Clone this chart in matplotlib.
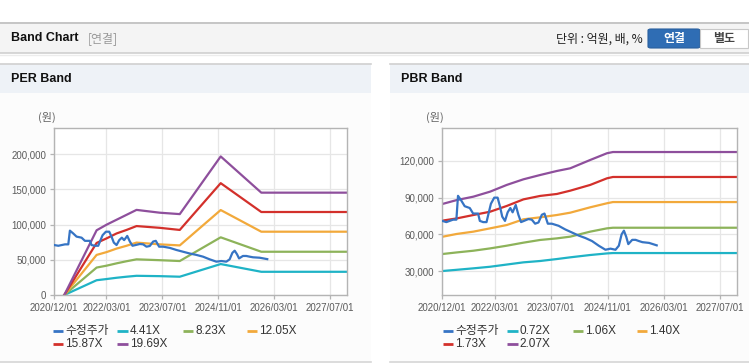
import matplotlib
matplotlib.use("Agg")
import matplotlib.pyplot as plt
import matplotlib.dates as mdates
from matplotlib.patches import Rectangle, FancyBboxPatch
from matplotlib.lines import Line2D
from matplotlib.ticker import FuncFormatter, FixedLocator
import pandas as pd

plt.rcParams['font.family'] = ['Liberation Sans', 'Noto Sans CJK KR', 'DejaVu Sans']

# ---------------- data ----------------
price_dates = ["2020-12-01", "2021-01-05", "2021-03-04", "2021-04-02", "2021-04-16", "2021-05-15",
               "2021-06-13", "2021-07-27", "2021-08-25", "2021-10-07", "2021-10-22", "2021-11-20",
               "2021-12-19", "2022-01-03", "2022-01-26", "2022-02-24", "2022-03-25", "2022-04-14",
               "2022-05-04", "2022-05-28", "2022-06-20", "2022-07-13", "2022-08-02", "2022-08-29",
               "2022-09-21", "2022-10-14", "2022-12-17", "2023-01-15", "2023-02-13", "2023-03-14",
               "2023-04-12", "2023-05-05", "2023-06-03", "2023-07-08", "2023-09-04", "2023-11-01",
               "2023-12-29", "2024-02-25", "2024-04-23", "2024-06-20", "2024-08-17", "2024-10-14",
               "2024-11-27", "2025-01-09", "2025-02-07", "2025-03-03", "2025-03-23", "2025-04-12",
               "2025-04-30", "2025-06-03", "2025-07-02", "2025-07-31", "2025-08-30", "2025-10-27",
               "2026-01-01"]
price_values = [71000, 70000, 72000, 72000, 91500, 87500,
                83000, 81500, 77000, 77000, 71000, 70000,
                70000, 76000, 85000, 90000, 90000, 83000,
                74500, 71000, 78000, 81500, 78000, 84000,
                76000, 70000, 72500, 72000, 68700, 69700,
                76000, 77000, 68700, 68700, 67000, 64000,
                61500, 59000, 57000, 54500, 50700, 47400,
                48300, 47400, 50700, 60000, 63000, 58000,
                52000, 55500, 55500, 54500, 53600, 53000,
                51000]

per_band_dates = ["2021-02-26", "2021-12-05", "2022-03-02", "2022-05-28", "2022-08-23", "2022-11-18",
                  "2023-06-09", "2023-11-30", "2024-11-21", "2025-11-10", "2027-11-30"]
per_441 = [0, 21000, 22700, 24500, 26000, 27300, 26800, 26000, 44000, 33000, 33000]
per_823 = [0, 39000, 41700, 45000, 48000, 50700, 49500, 48300, 82000, 61500, 61500]
per_1205 = [0, 57000, 61000, 66000, 70000, 74500, 72000, 70500, 120800, 90000, 90000]
per_1587 = [0, 74000, 80500, 87500, 92500, 98000, 95500, 92500, 159000, 118000, 118000]
per_1969 = [0, 92000, 100000, 107000, 114000, 121000, 117000, 115000, 197000, 145500, 145500]

pbr_band_dates = ["2020-12-01", "2021-04-04", "2021-08-27", "2022-01-19", "2022-06-12", "2022-11-04",
                  "2023-03-28", "2023-08-20", "2023-12-14", "2024-06-04", "2024-10-27", "2024-12-18",
                  "2027-11-30"]
pbr_072 = [30000, 31000, 32200, 33500, 35300, 37100, 38200, 39800, 41200, 43100, 44400, 44700, 44700]
pbr_106 = [43900, 45200, 46600, 48500, 50700, 53200, 55400, 56700, 58100, 62200, 64900, 65400, 65400]
pbr_140 = [58000, 60300, 62200, 64900, 67600, 72300, 73900, 75800, 77700, 82100, 85400, 86400, 86400]
pbr_173 = [71200, 73000, 75800, 78500, 83200, 88600, 91400, 93000, 95700, 100400, 105800, 106900, 106900]
pbr_207 = [84800, 88000, 90800, 94900, 100400, 105000, 108500, 111800, 114000, 120800, 126300, 127300, 127300]

per_labels = ["수정주가", "4.41X", "8.23X", "12.05X", "15.87X", "19.69X"]
pbr_labels = ["수정주가", "0.72X", "1.06X", "1.40X", "1.73X", "2.07X"]
series_colors = ["#3674c4", "#1fb3c6", "#8db35a", "#f2a93b", "#d3302b", "#8e4f9c"]

x_tick_dates = ["2020-12-01", "2022-03-01", "2023-07-01", "2024-11-01", "2026-03-01", "2027-07-01"]
per_yticks = [0, 50000, 100000, 150000, 200000]
pbr_yticks = [30000, 60000, 90000, 120000]

# ---------------- figure ----------------
W, H = 749, 364
fig = plt.figure(figsize=(W / 100, H / 100), dpi=100)
fig.patch.set_facecolor("white")

KR = ["Noto Sans CJK KR", "DejaVu Sans"]


def fx(x):
    return x / W


def fy(y):
    return 1 - y / H


def rect(x0, y0, x1, y1, fc, ec="none", lw=0, z=-2):
    fig.patches.append(Rectangle((fx(x0), fy(y1)), fx(x1) - fx(x0), fy(y0) - fy(y1),
                                 transform=fig.transFigure, facecolor=fc, edgecolor=ec, lw=lw, zorder=z))


def hline(x0, x1, y, color, lw=1.0):
    fig.add_artist(Line2D([fx(x0), fx(x1)], [fy(y), fy(y)], transform=fig.transFigure,
                          color=color, lw=lw, zorder=-1))


# header bar
rect(0, 22.5, 749, 53, "#f4f4f4")
hline(0, 749, 22.5, "#bdbdbd", 1.2)
hline(0, 749, 53.3, "#cfcfcf", 1.2)
hline(0, 749, 54.5, "#ececec", 1.0)
fig.text(fx(11), fy(38), "Band Chart", fontsize=9, fontweight="bold", color="#111111", va="center")
fig.text(fx(88), fy(38.5), "[연결]", fontsize=8.6, color="#999999", va="center", family=KR)
fig.text(fx(643), fy(39), "단위 : 억원, 배, %", fontsize=8.6, color="#222222", va="center", ha="right",
         family=KR)
fig.patches.append(FancyBboxPatch((fx(648), fy(48)), fx(700) - fx(648), fy(29) - fy(48),
                                  boxstyle="round,pad=0,rounding_size=0.004", transform=fig.transFigure,
                                  facecolor="#2f6db4", edgecolor="#2a5f9e", lw=0.8, zorder=-1))
rect(700, 29, 748, 48, "white", ec="#c8c8c8", lw=0.8, z=-1)
fig.text(fx(674), fy(38.5), "연결", fontsize=8.6, color="white", fontweight="bold", ha="center", va="center",
         family=KR)
fig.text(fx(724), fy(38.5), "별도", fontsize=8.6, color="#444444", fontweight="bold", ha="center", va="center",
         family=KR)

# panels
for (x0, x1, title) in [(0, 371, "PER Band"), (390, 749, "PBR Band")]:
    rect(x0, 63.5, x1, 361, "#fcfcfc")
    rect(x0, 63.5, x1, 92.5, "#eef2f7")
    hline(x0, x1, 63.5, "#d0d0d0", 1.2)
    hline(x0, x1, 361.5, "#d6d6d6", 1.2)
    fig.text(fx(x0 + 11), fy(79), title, fontsize=9, fontweight="bold", color="#111111", va="center")


def style_axis(ax, ylim, yticks):
    ax.set_facecolor("white")
    ax.set_xlim(pd.Timestamp("2020-12-01"), pd.Timestamp("2027-11-30"))
    ax.set_ylim(*ylim)
    ax.xaxis.set_major_locator(FixedLocator(mdates.date2num(pd.to_datetime(x_tick_dates))))
    ax.xaxis.set_major_formatter(mdates.DateFormatter("%Y/%m/%d"))
    ax.set_yticks(yticks)
    ax.yaxis.set_major_formatter(FuncFormatter(lambda v, p: f"{int(v):,}"))
    ax.grid(True, color="#e6e6e6", lw=0.9)
    ax.set_axisbelow(True)
    for s in ax.spines.values():
        s.set_color("#b4b4b4")
        s.set_linewidth(1.0)
    ax.tick_params(axis="both", colors="#b4b4b4", length=3, width=0.9, labelcolor="#5a5a5a", labelsize=7)
    ax.tick_params(axis="x", pad=3)
    ax.tick_params(axis="y", pad=3)


def draw_legend(x0, labels):
    col_x = [x0, x0 + 64.6, x0 + 130, x0 + 194]
    for i, (lab, col) in enumerate(zip(labels, series_colors)):
        r, c = divmod(i, 4)
        y = 330.5 + r * 13
        xs = col_x[c]
        fig.add_artist(Line2D([fx(xs), fx(xs + 10.5)], [fy(y), fy(y)], transform=fig.transFigure,
                              color=col, lw=2.0, solid_capstyle="butt"))
        fig.text(fx(xs + 12.5), fy(y + 0.5), lab, fontsize=8.5, color="#333333", va="center",
                 family=["Liberation Sans", "Noto Sans CJK KR"])


# PER chart
ax1 = fig.add_axes([fx(54.3), fy(295), fx(347.3) - fx(54.3), fy(128.3) - fy(295)])
style_axis(ax1, (0, 237000), per_yticks)
pd_per = pd.to_datetime(per_band_dates)
for vals, col in zip([per_441, per_823, per_1205, per_1587, per_1969], series_colors[1:]):
    ax1.plot(pd_per, vals, color=col, lw=1.6, solid_joinstyle="round")
ax1.plot(pd.to_datetime(price_dates), price_values, color=series_colors[0], lw=1.6, solid_joinstyle="round", zorder=5)
fig.text(fx(38), fy(117.5), "(원)", fontsize=8, color="#666666", va="center", family=KR)
draw_legend(52.7, per_labels)

# PBR chart
ax2 = fig.add_axes([fx(442.3), fy(295), fx(737.3) - fx(442.3), fy(128.3) - fy(295)])
style_axis(ax2, (10400, 146700), pbr_yticks)
pd_pbr = pd.to_datetime(pbr_band_dates)
for vals, col in zip([pbr_072, pbr_106, pbr_140, pbr_173, pbr_207], series_colors[1:]):
    ax2.plot(pd_pbr, vals, color=col, lw=1.6, solid_joinstyle="round")
ax2.plot(pd.to_datetime(price_dates), price_values, color=series_colors[0], lw=1.6, solid_joinstyle="round", zorder=5)
fig.text(fx(426), fy(117.5), "(원)", fontsize=8, color="#666666", va="center", family=KR)
draw_legend(442.7, pbr_labels)

fig.savefig("out.png", dpi=100)
